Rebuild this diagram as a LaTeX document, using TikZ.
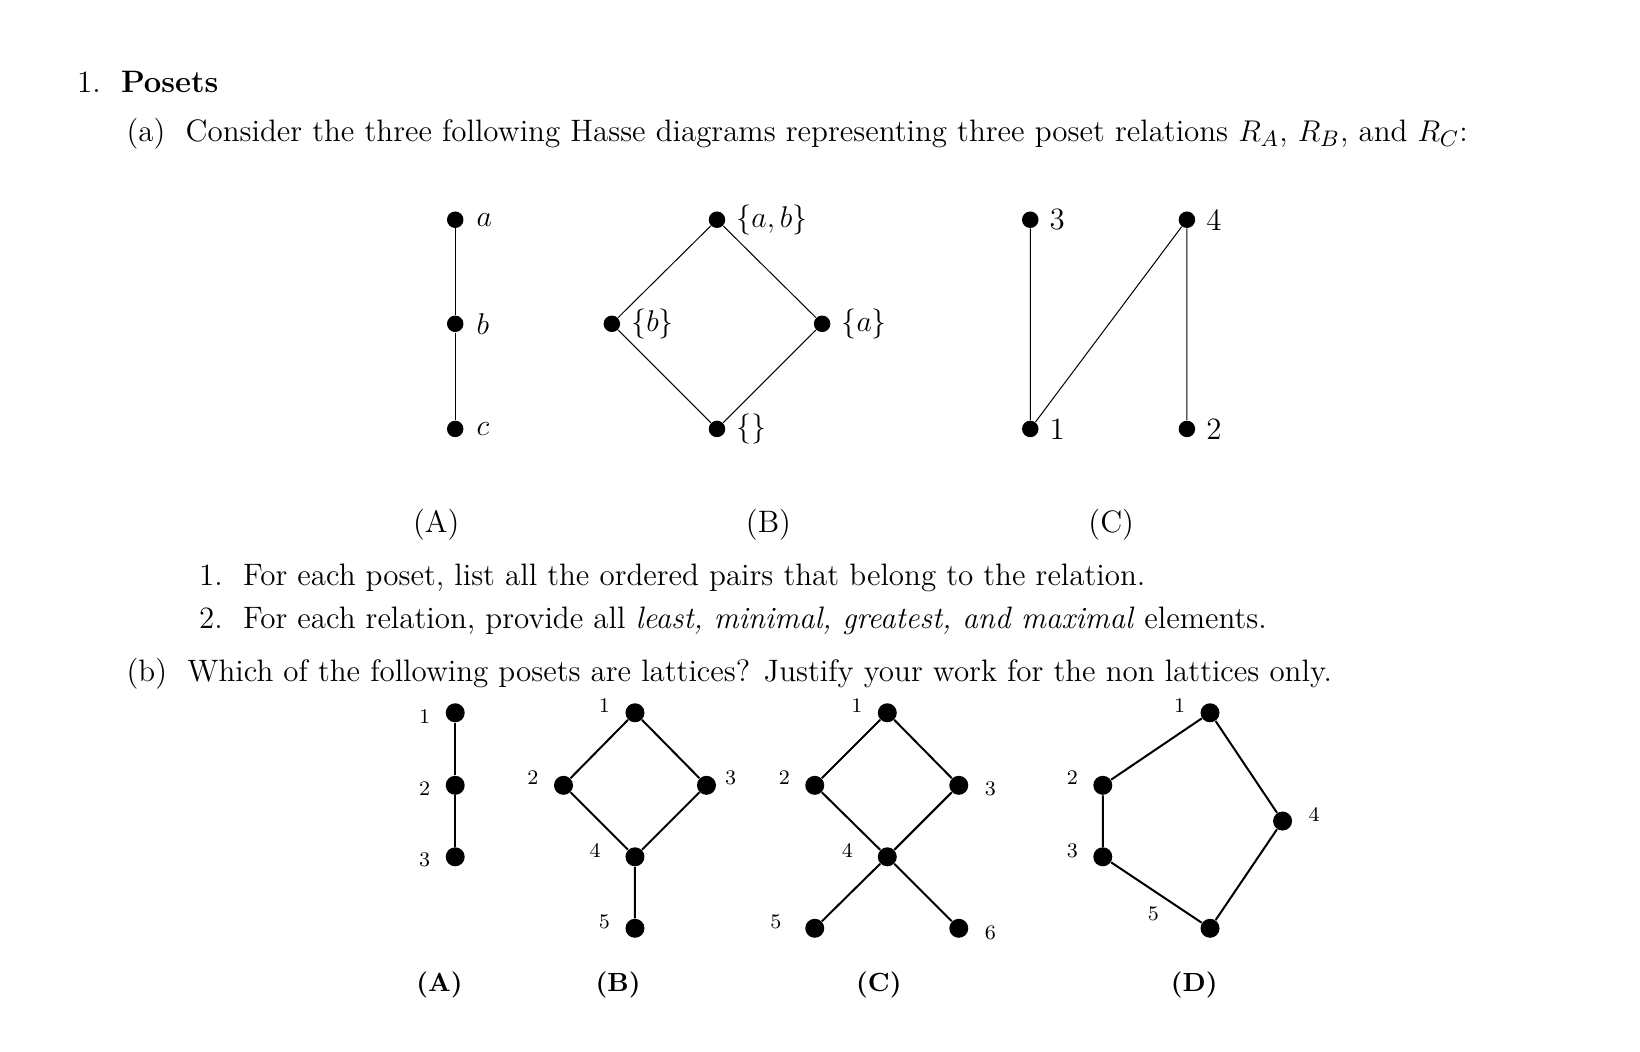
\documentclass[tikz,border=0pt]{standalone}
\begin{document}
\begin{tikzpicture}[x=0.4205pt,y=-0.4205pt,
  dot/.style={circle,fill,inner sep=0pt,minimum size=6.6pt},
  bdot/.style={circle,fill,inner sep=0pt,minimum size=7.6pt},
  txt/.style={anchor=base west,inner sep=0pt,font=\fontsize{12.4}{14}\selectfont},
  lab/.style={font=\fontsize{12.4}{14}\selectfont,inner sep=0pt},
  sl/.style={font=\fontsize{8.3}{10}\selectfont,inner sep=0pt},
  bl/.style={font=\fontsize{10.5}{12}\selectfont\bfseries,inner sep=0pt}]
\useasboundingbox (0,0) rectangle (1560,1000);
\node[txt] (t1) at (73,88) {1.\ \ \textbf{Posets}};
\node[txt] (t2) at (120,135) {(a)\ \ Consider the three following Hasse diagrams representing three poset relations $R_A$, $R_B$, and $R_C$:};
% A
\node[dot] (aa) at (433,209) {}; \node[dot] (ab) at (433,308) {}; \node[dot] (ac) at (433,408) {};
\draw (aa)--(ab)--(ac);
\node[lab,anchor=west] (la) at (453,209) {$a$};
\node[lab,anchor=west] (lb) at (453,308) {$b$};
\node[lab,anchor=west] (lc) at (453,408) {$c$};
% B
\node[dot] (bt) at (682,209) {}; \node[dot] (bl) at (582,308) {}; \node[dot] (br) at (782,308) {}; \node[dot] (bb) at (682,408) {};
\draw (bt)--(bl)--(bb)--(br)--(bt);
\node[lab,anchor=west] (lbt) at (700,209) {$\{a,b\}$};
\node[lab,anchor=west] (lbl) at (600,308) {$\{b\}$};
\node[lab,anchor=west] (lbr) at (800,308) {$\{a\}$};
\node[lab,anchor=west] (lbb) at (700,408) {$\{\}$};
% C
\node[dot] (c3) at (980,209) {}; \node[dot] (c4) at (1129,209) {}; \node[dot] (c1) at (980,408) {}; \node[dot] (c2) at (1129,408) {};
\draw (c3)--(c1)--(c4)--(c2);
\node[lab,anchor=west] (l3) at (998,209) {3};
\node[lab,anchor=west] (l4) at (1147,209) {4};
\node[lab,anchor=west] (l1) at (998,408) {1};
\node[lab,anchor=west] (l2) at (1147,408) {2};
\node[lab] (cA) at (415,499) {(A)};
\node[lab] (cB) at (731,499) {(B)};
\node[lab] (cC) at (1057,499) {(C)};
\node[txt] (i1) at (189,557) {1.\ \ For each poset, list all the ordered pairs that belong to the relation.};
\node[txt] (i2) at (189,598) {2.\ \ For each relation, provide all \emph{least, minimal, greatest, and maximal} elements.};
\node[txt] (t3) at (120,648) {(b)\ \ Which of the following posets are lattices? Justify your work for the non lattices only.};
% b A
\node[bdot] (A1) at (433,678) {}; \node[bdot] (A2) at (433,747) {}; \node[bdot] (A3) at (433,815) {};
\draw[thick] (A1)--(A2)--(A3);
\node[sl] at (404,682) {1}; \node[sl] at (404,750) {2}; \node[sl] at (404,818) {3};
% b B
\node[bdot] (B1) at (604,678) {}; \node[bdot] (B2) at (536,747) {}; \node[bdot] (B3) at (672,747) {}; \node[bdot] (B4) at (604,815) {}; \node[bdot] (B5) at (604,883) {};
\draw[thick] (B1)--(B2)--(B4)--(B3)--(B1) (B4)--(B5);
\node[sl] at (575,671) {1}; \node[sl] at (507,740) {2}; \node[sl] at (695,740) {3}; \node[sl] at (566,809) {4}; \node[sl] at (575,877) {5};
% b C
\node[bdot] (C1) at (844,678) {}; \node[bdot] (C2) at (775,747) {}; \node[bdot] (C3) at (912,747) {}; \node[bdot] (C4) at (844,815) {}; \node[bdot] (C5) at (775,883) {}; \node[bdot] (C6) at (912,883) {};
\draw[thick] (C1)--(C2)--(C4)--(C3)--(C1) (C5)--(C4)--(C6);
\node[sl] at (815,671) {1}; \node[sl] at (746,740) {2}; \node[sl] at (942,750) {3}; \node[sl] at (806,809) {4}; \node[sl] at (738,877) {5}; \node[sl] at (942,887) {6};
% b D
\node[bdot] (D1) at (1151,678) {}; \node[bdot] (D2) at (1049,747) {}; \node[bdot] (D3) at (1049,815) {}; \node[bdot] (D4) at (1220,781) {}; \node[bdot] (D5) at (1151,883) {};
\draw[thick] (D1)--(D2)--(D3)--(D5)--(D4)--(D1);
\node[sl] at (1122,671) {1}; \node[sl] at (1020,740) {2}; \node[sl] at (1020,809) {3}; \node[sl] at (1250,775) {4}; \node[sl] at (1097,869) {5};
\node[bl] at (418,937) {(A)}; \node[bl] at (588,937) {(B)}; \node[bl] at (836,937) {(C)}; \node[bl] at (1136,937) {(D)};
\end{tikzpicture}
\end{document}
